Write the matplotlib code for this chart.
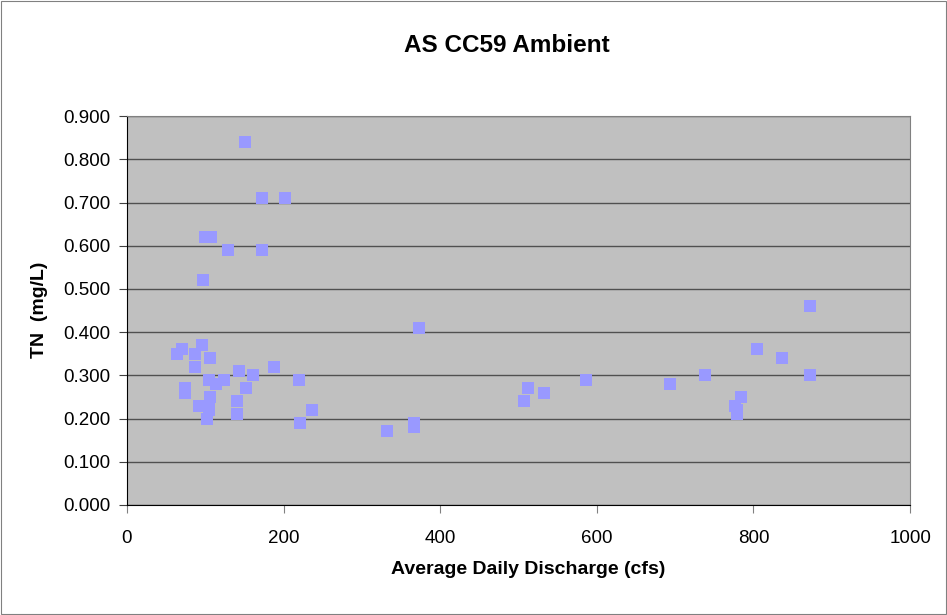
import matplotlib
matplotlib.use("Agg")
import matplotlib.pyplot as plt
from matplotlib.patches import Rectangle
from matplotlib.ticker import FormatStrFormatter

plt.rcParams["font.family"] = ["Liberation Sans", "DejaVu Sans"]

# Average daily discharge (cfs) and TN (mg/L)
discharge = [151, 172, 202, 100, 108, 129, 172, 97,
             64, 70, 96, 87, 106, 87, 143, 161, 188, 220,
             105, 124, 114, 152, 74, 74, 106, 140, 92, 105, 105,
             102, 140, 236, 221,
             373, 332, 366, 366, 512, 533, 507, 586,
             872, 805, 837, 872, 738, 693, 784, 776, 779, 779]
tn = [0.84, 0.71, 0.71, 0.62, 0.62, 0.59, 0.59, 0.52,
      0.35, 0.36, 0.37, 0.35, 0.34, 0.32, 0.31, 0.30, 0.32, 0.29,
      0.29, 0.29, 0.28, 0.27, 0.27, 0.26, 0.25, 0.24, 0.23, 0.23, 0.22,
      0.20, 0.21, 0.22, 0.19,
      0.41, 0.17, 0.19, 0.18, 0.27, 0.26, 0.24, 0.29,
      0.46, 0.36, 0.34, 0.30, 0.30, 0.28, 0.25, 0.23, 0.22, 0.21]

fig = plt.figure(figsize=(9.47, 6.15), dpi=100)
fig.patches.append(Rectangle((0.001, 0.001), 0.998, 0.998, transform=fig.transFigure,
                             fill=False, edgecolor="#808080", linewidth=0.8))
ax = fig.add_axes([0.134, 0.179, 0.827, 0.632])
ax.set_facecolor("#C0C0C0")

ax.scatter(discharge, tn, marker="s", s=70, color="#9999FF", zorder=3, linewidths=0)

ax.set_xlim(0, 1000)
ax.set_ylim(0, 0.9)
ax.set_xticks(range(0, 1001, 200))
ax.set_yticks([i / 10 for i in range(10)])
ax.yaxis.set_major_formatter(FormatStrFormatter("%.3f"))
ax.grid(axis="y", color="#505050", linewidth=1)
ax.set_axisbelow(True)
ax.tick_params(axis="y", labelsize=13.5, length=6, color="#404040", pad=6)
ax.tick_params(axis="x", labelsize=13.5, length=6, color="#808080", pad=12)

for s in ["top", "right"]:
    ax.spines[s].set_color("#808080")
ax.spines["left"].set_color("black")
ax.spines["bottom"].set_color("black")

fig.text(507 / 947, 1 - 45 / 615, "AS CC59 Ambient", fontsize=17.5, fontweight="bold",
         ha="center", va="center")
ax.set_xlabel("Average Daily Discharge (cfs)", fontsize=14, fontweight="bold")
ax.set_ylabel("TN  (mg/L)", fontsize=14, fontweight="bold")
ax.xaxis.set_label_coords(0.512, -0.167)
ax.yaxis.set_label_coords(-0.111, 0.501)
ax.xaxis.label.set_va("center")
ax.yaxis.label.set_va("center")

fig.savefig("out.png", dpi=100)
